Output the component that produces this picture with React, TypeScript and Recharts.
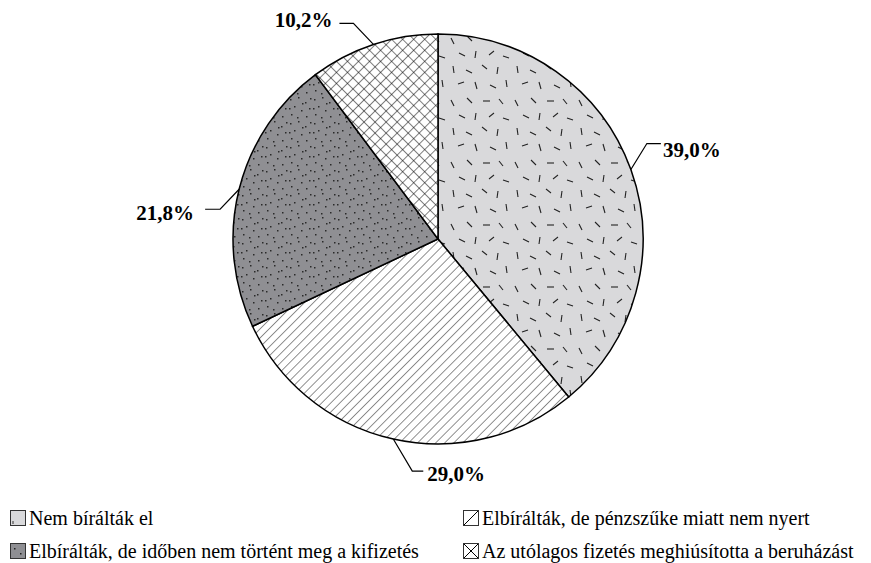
import React from "react";
import { PieChart, Pie, Cell, Legend } from "recharts";

const CATEGORIES = [
  "Nem bírálták el",
  "Elbírálták, de pénzszűke miatt nem nyert",
  "Elbírálták, de időben nem történt meg a kifizetés",
  "Az utólagos fizetés meghiúsította a beruházást",
];
const VALUES = [39.0, 29.0, 21.8, 10.2];
const LABELS = ["39,0%", "29,0%", "21,8%", "10,2%"];

// label leader geometry (style only): elbow offset from slice edge, horizontal run, text vertical adj
const LEADER = [
  { dx: 16, dy: -26, run: 14, gap: 2, tdy: 6 },
  { dx: 19, dy: 32, run: 11, gap: 4, tdy: 3 },
  { dx: -19, dy: 20, run: -15, gap: 11, tdy: 4 },
  { dx: -20, dy: -21, run: -14, gap: 7, tdy: -3 },
];

const FILLS = ["url(#pDash)", "url(#pDiag)", "url(#pDots)", "url(#pCross)"];

const DASHES = [
  [5, 4, 6, 11], [18, 8, 24, 11], [34, 3, 39, 7], [50, 5, 49, 12],
  [10, 22, 16, 20], [27, 20, 29, 27], [42, 23, 48, 26], [58, 18, 59, 25],
  [3, 38, 6, 44], [19, 36, 24, 41], [35, 39, 42, 39], [51, 37, 55, 42],
  [11, 53, 17, 56], [28, 51, 27, 58], [41, 55, 46, 51], [55, 56, 61, 58],
];
const DOTS = [
  [2, 3], [10, 1], [17, 6], [6, 10], [21, 12], [13, 14], [3, 18], [9, 21], [18, 20],
  [14, 7], [22, 2], [1, 12],
];

const data = CATEGORIES.map((name, i) => ({ name, value: VALUES[i] }));

const RAD = Math.PI / 180;

const renderLabel = (props: any) => {
  const { cx, cy, midAngle, outerRadius, index } = props;
  const L = LEADER[index];
  const ex = cx + outerRadius * Math.cos(-midAngle * RAD);
  const ey = cy + outerRadius * Math.sin(-midAngle * RAD);
  const bx = ex + L.dx;
  const by = ey + L.dy;
  const hx = bx + L.run;
  const right = L.run > 0;
  const tx = right ? hx + L.gap : hx - L.gap;
  return (
    <g key={`lbl-${index}`}>
      <path d={`M${ex},${ey} L${bx},${by} L${hx},${by}`} stroke="#000" strokeWidth={1.2} fill="none" />
      <text
        x={tx}
        y={by + L.tdy}
        textAnchor={right ? "start" : "end"}
        dominantBaseline="central"
        fontFamily="'Liberation Serif', 'Times New Roman', serif"
        fontWeight="bold"
        fontSize={21}
        fill="#000"
      >
        {LABELS[index]}
      </text>
    </g>
  );
};

const Swatch = ({ i }: { i: number }) => (
  <svg width={16} height={16} style={{ flex: "none", marginRight: 3 }}>
    <rect x={0.5} y={0.5} width={15} height={15} fill={i === 0 ? "#d9d9db" : i === 2 ? "#8f8f93" : "#fff"} stroke="#333" strokeWidth={1} />
    {i === 0 && <line x1={3} y1={11} x2={3} y2={14} stroke="#333" strokeWidth={1} />}
    {i === 1 && <line x1={1} y1={15} x2={15} y2={1} stroke="#000" strokeWidth={1} />}
    {i === 2 && (
      <g fill="#222">
        <rect x={4} y={5} width={1.5} height={1.5} />
        <rect x={10} y={10} width={1.5} height={1.5} />
      </g>
    )}
    {i === 3 && (
      <g stroke="#000" strokeWidth={1}>
        <line x1={1} y1={1} x2={15} y2={15} />
        <line x1={1} y1={15} x2={15} y2={1} />
      </g>
    )}
  </svg>
);

const LEGEND_POS = [
  { left: 10, top: 510 },
  { left: 463, top: 510 },
  { left: 10, top: 543 },
  { left: 463, top: 543 },
];

const renderLegend = () => (
  <div style={{ position: "relative", width: 871, height: 563 }}>
    {CATEGORIES.map((c, i) => (
      <div
        key={c}
        style={{
          position: "absolute",
          left: LEGEND_POS[i].left,
          top: LEGEND_POS[i].top,
          display: "flex",
          alignItems: "flex-start",
          fontFamily: "'Liberation Serif', 'Times New Roman', serif",
          fontSize: 20,
          lineHeight: "20px",
          color: "#000",
          whiteSpace: "nowrap",
        }}
      >
        <Swatch i={i} />
        <span style={{ marginTop: -2 }}>{c}</span>
      </div>
    ))}
  </div>
);

export default function App() {
  return (
    <div style={{ position: "absolute", left: 0, top: 0, width: 871, height: 563, background: "#fff" }}>
      <svg width={0} height={0} style={{ position: "absolute" }}>
        <defs>
          <pattern id="pDash" patternUnits="userSpaceOnUse" width={64} height={62}>
            <rect width={64} height={62} fill="#d9d9db" />
            {DASHES.map((d, k) => (
              <line key={k} x1={d[0]} y1={d[1]} x2={d[2]} y2={d[3]} stroke="#222" strokeWidth={1.1} />
            ))}
          </pattern>
          <pattern id="pDiag" patternUnits="userSpaceOnUse" width={6.4} height={6.4} patternTransform="rotate(45)">
            <rect width={6.4} height={6.4} fill="#fff" />
            <line x1={0} y1={0} x2={0} y2={6.4} stroke="#222" strokeWidth={1} />
          </pattern>
          <pattern id="pDots" patternUnits="userSpaceOnUse" width={24} height={24}>
            <rect width={24} height={24} fill="#8f8f93" />
            {DOTS.map((d, k) => (
              <rect key={k} x={d[0]} y={d[1]} width={1.5} height={1.5} fill="#2a2a2a" />
            ))}
          </pattern>
          <pattern id="pCross" patternUnits="userSpaceOnUse" width={7.8} height={7.8} patternTransform="rotate(45)">
            <rect width={7.8} height={7.8} fill="#fff" />
            <line x1={0} y1={0} x2={0} y2={7.8} stroke="#000" strokeWidth={1} />
            <line x1={0} y1={0} x2={7.8} y2={0} stroke="#000" strokeWidth={1} />
          </pattern>
        </defs>
      </svg>
      <PieChart width={871} height={563} margin={{ top: 0, right: 0, bottom: 0, left: 0 }}>
        <Pie
          data={data}
          dataKey="value"
          nameKey="name"
          cx={438}
          cy={239}
          outerRadius={205}
          startAngle={90}
          endAngle={-270}
          stroke="#000"
          strokeWidth={1.5}
          label={renderLabel}
          labelLine={false}
          isAnimationActive={false}
        >
          {data.map((d, i) => (
            <Cell key={d.name} fill={FILLS[i]} />
          ))}
        </Pie>
        <Legend
          content={renderLegend}
          wrapperStyle={{ position: "absolute", left: 0, top: 0, width: 871, height: 563, pointerEvents: "none" }}
        />
      </PieChart>
    </div>
  );
}
